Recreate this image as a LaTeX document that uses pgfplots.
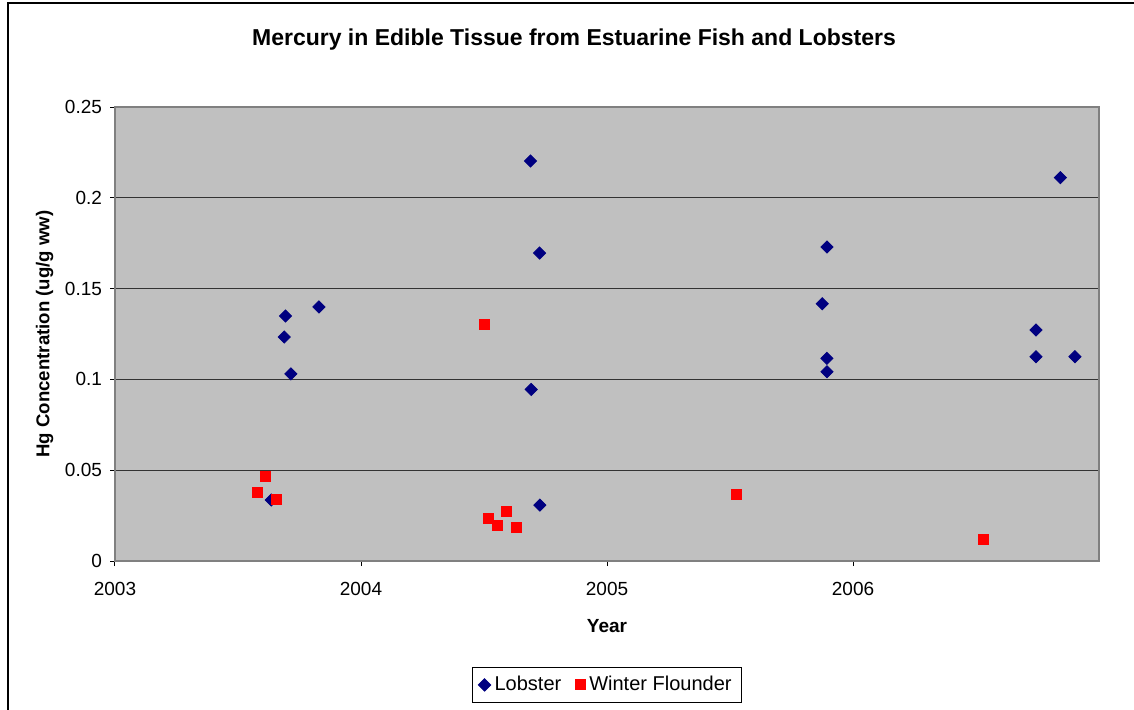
\documentclass[border=0pt]{standalone}
\usepackage{fontspec}
\setmainfont{Liberation Sans}
\usepackage{pgfplots}
\pgfplotsset{compat=1.18}
\definecolor{plotbg}{RGB}{192,192,192}
\definecolor{lobster}{RGB}{0,0,128}
\definecolor{flounder}{RGB}{255,0,0}
\definecolor{framegray}{RGB}{128,128,128}

\begin{document}
\begin{tikzpicture}
\begin{axis}[
  name=ax,
  scale only axis,
  width=492pt, height=227pt,
  xmin=2003, xmax=2007,
  ymin=0, ymax=0.25,
  xtick={2003,2004,2005,2006}, ytick={0,0.05,0.1,0.15,0.2,0.25},
  xticklabels={2003,2004,2005,2006},
  yticklabels={0,0.05,0.1,0.15,0.2,0.25},
  tick align=outside, tick pos=left,
  major tick length=2.5pt,
  tick style={black, line width=0.5pt},
  axis background/.style={fill=plotbg},
  axis line style={framegray, line width=0.8pt},
  ymajorgrids, grid style={black!80, line width=0.6pt},
  tick label style={font=\fontsize{9.5}{11}\selectfont},
  xticklabel style={yshift=-4.5pt},
  yticklabel style={xshift=-0.5pt},
  /pgf/number format/assume math mode=true,
  xlabel={\bfseries Year}, xlabel style={font=\fontsize{9.5}{11}\selectfont, yshift=-5pt},
  ylabel={\bfseries Hg Concentration (ug/g ww)}, ylabel style={font=\fontsize{9.3}{11}\selectfont, yshift=-1pt},
  clip=false,
  legend style={at={(0.5,-0.273)}, anchor=center, draw=black, line width=0.5pt,
    legend columns=2, font=\fontsize{10}{12}\selectfont, inner xsep=3pt, inner ysep=2.5pt,
    /tikz/every even column/.append style={column sep=5pt}},
  legend image code/.code={\draw[mark repeat=2,mark phase=2] plot coordinates {(0cm,0cm) (0.12cm,0cm) (0.24cm,0cm)};},
  legend cell align=left,
]
\addplot[only marks, mark=square*, mark size=2.15pt, mark options={rotate=45}, color=lobster] coordinates {
  (2003.635,0.0336) (2003.688,0.1233) (2003.693,0.1349) (2003.715,0.1030)
  (2003.829,0.1399) (2004.689,0.2203) (2004.726,0.1696) (2004.692,0.0945)
  (2004.727,0.0308) (2005.875,0.1417) (2005.894,0.1729) (2005.894,0.1116)
  (2005.894,0.1042) (2006.843,0.2111) (2006.744,0.1272) (2006.744,0.1125)
  (2006.902,0.1125)
};
\addlegendentry{Lobster}
\addplot[only marks, mark=square*, mark size=2.5pt, color=flounder] coordinates {
  (2003.577,0.0380) (2003.612,0.0468) (2003.655,0.0341) (2004.502,0.1305)
  (2004.518,0.0235) (2004.553,0.0197) (2004.589,0.0275) (2004.632,0.0187)
  (2005.527,0.0369) (2006.529,0.0121)
};
\addlegendentry{Winter Flounder}
\end{axis}
\path[use as bounding box] ([shift={(-57.5pt,-74pt)}]ax.south west) rectangle ([shift={(509.5pt,280.5pt)}]ax.south west);
\draw[black, line width=0.6pt] ([shift={(-53.5pt,-90pt)}]ax.south west) rectangle ([shift={(520pt,279pt)}]ax.south west);
\node[font=\bfseries\fontsize{11.5}{13}\selectfont] at ([shift={(229.5pt,260.5pt)}]ax.south west) {Mercury in Edible Tissue from Estuarine Fish and Lobsters};
\end{tikzpicture}
\end{document}
